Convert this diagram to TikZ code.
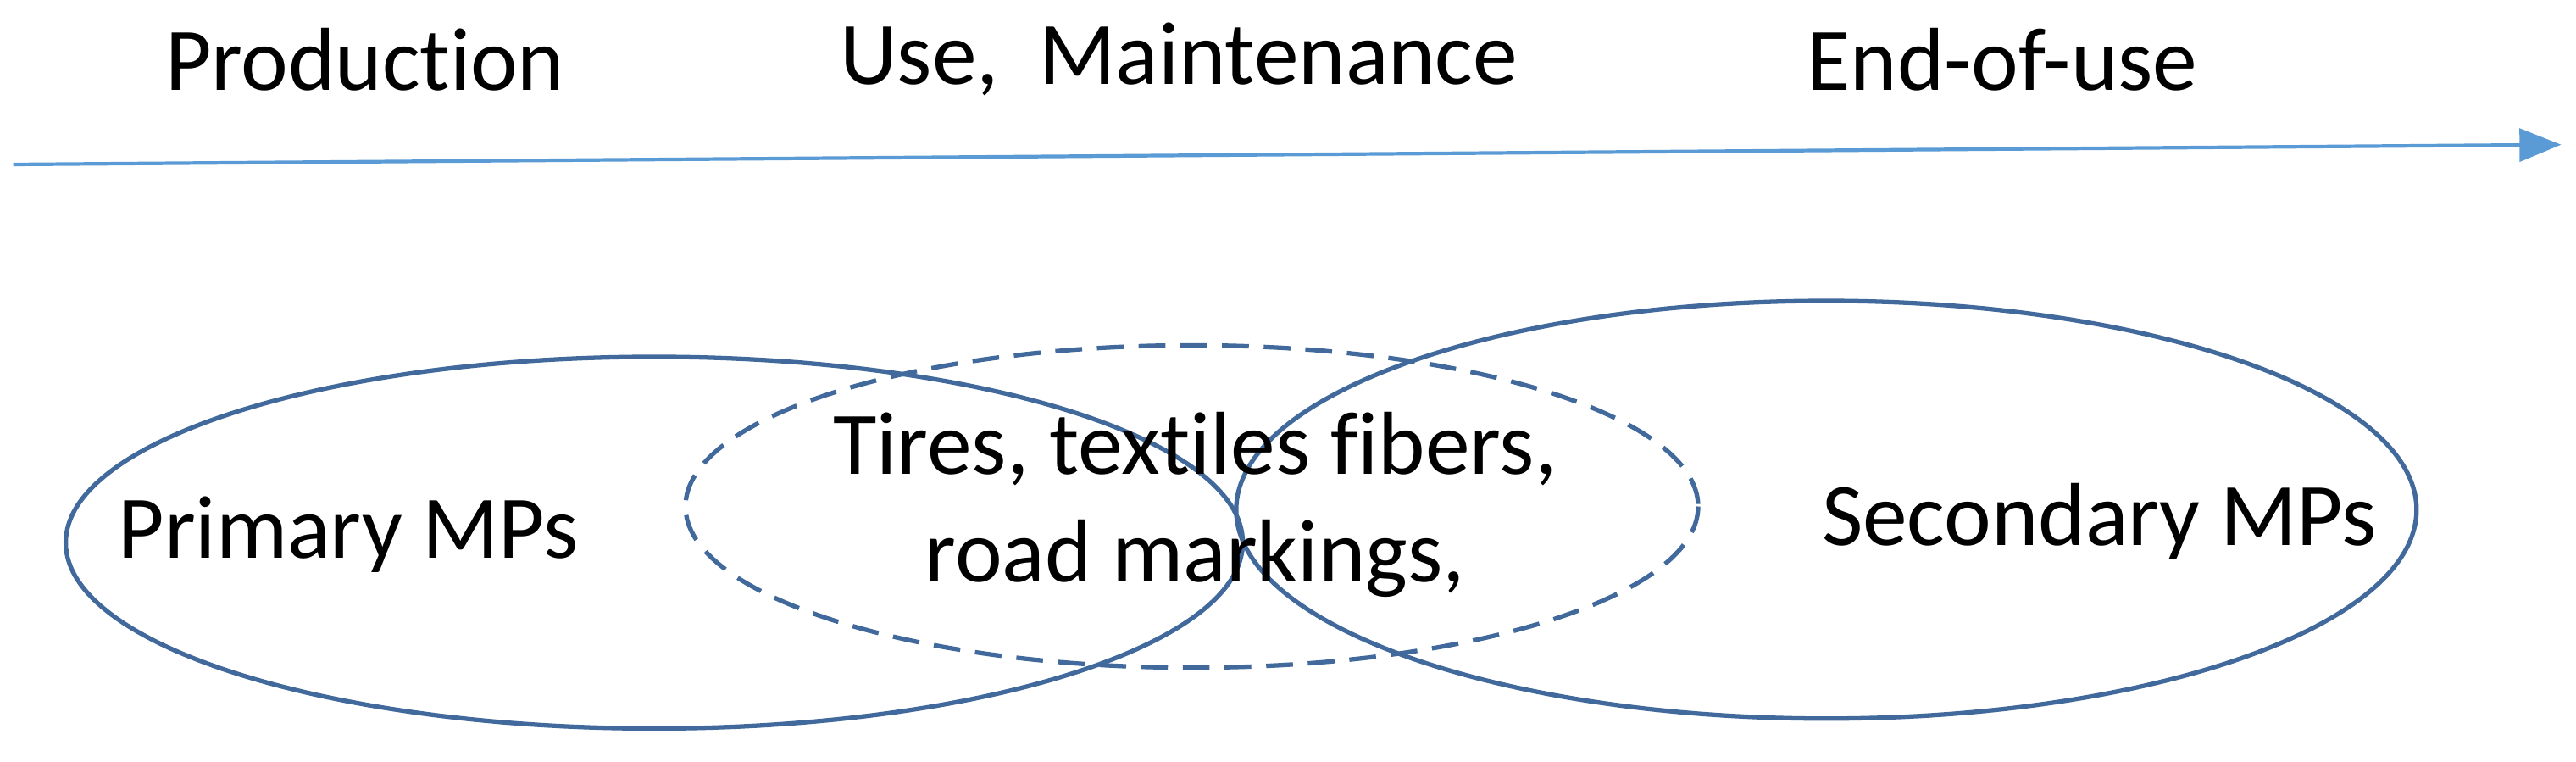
\documentclass[tikz,border=0pt]{standalone}
\usepackage{fontspec}
\setmainfont[Ligatures=NoCommon]{Carlito}
\usetikzlibrary{arrows.meta}
\definecolor{ell}{HTML}{41699C}
\definecolor{arr}{HTML}{5B9BD5}
\begin{document}
\begin{tikzpicture}[x=0.0194cm,y=-0.0194cm,
  lbl/.style={font=\fontsize{30}{36}\selectfont,align=center,inner sep=0pt},
  ring/.style={draw=ell,line width=1.5pt}]
\useasboundingbox (0,0) rectangle (1567,463.4);
\coordinate (a0) at (8,100);
\coordinate (a1) at (1558,88);
\draw[arr,line width=1.2pt,-{Triangle[length=14pt,width=11pt]}] (a0) -- (a1);
\node[lbl] (p) at (222,36) {Production};
\node[lbl] (u) at (717,36) {Use,\ \ Maintenance};
\node[lbl] (e) at (1218,36) {End-of-use};
\draw[ring] (398,330) ellipse [x radius=358,y radius=113];
\draw[ring] (1111,310) ellipse [x radius=359,y radius=127];
\draw[ring,dashed,dash pattern=on 9pt off 5pt] (725,308) ellipse [x radius=308,y radius=98];
\node[lbl] (pm) at (212,325) {Primary MPs};
\node[lbl] (t) at (727,307) {Tires, textiles fibers,\\road markings,};
\node[lbl] (sm) at (1277,317) {Secondary MPs};
\end{tikzpicture}
\end{document}
